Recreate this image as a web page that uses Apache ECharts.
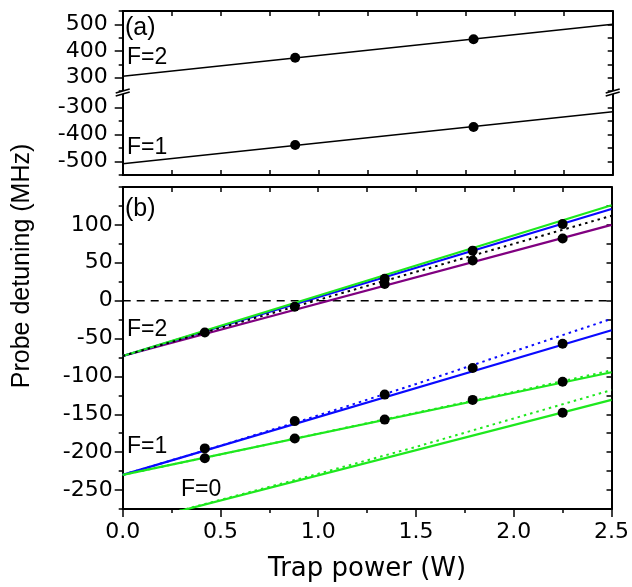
<!DOCTYPE html>
<html><head><meta charset="utf-8">
<script src="https://cdn.jsdelivr.net/npm/echarts@6/dist/echarts.min.js"></script>
<style>html,body{margin:0;padding:0;background:#fff}#c{width:632px;height:587px}</style>
</head><body><div id="c"></div>
<script>
// ---------- data ----------
const xTickLabels = [0, 0.5, 1.0, 1.5, 2.0, 2.5];
const yTicksAUpper = [300, 400, 500];
const yTicksALower = [-500, -400, -300];
const yTicksB = [-250, -200, -150, -100, -50, 0, 50, 100];

// panel (a) measured points
const ptXA = [0.88, 1.79];
const ptA_F2 = [375, 444];
const ptA_F1 = [-439, -372];
// panel (a) fits
const fitX = [0, 2.5];
const fitA_F2 = [305, 500];
const fitA_F1 = [-508, -316];

// panel (b) measured points
const ptXB = [0.42, 0.88, 1.34, 1.79, 2.25];
const ptB_F2_upper = [-42, -8, 29, 66, 101];
const ptXB_lower = [1.34, 1.79, 2.25];
const ptB_F2_lower = [22, 53, 82];
const ptB_F1_blue = [-195, -159, -124, -89, -57];
const ptB_F1_green = [-208, -182, -157, -131, -107];
const ptXB_F0 = [2.25];
const ptB_F0 = [-148];

// panel (b) fits (solid, straight)
const fitB_F2_green = [-73, 126];
const fitB_F2_blue = [-73, 121];
const fitB_F2_purple = [-73, 100];
const fitB_F2_dotted = [-73, 112];
const fitB_F1_blue = [-230, -39];
const fitB_F1_green = [-230, -94.5];
const fitB_F0_green = [-297, -131];
const zeroLine = [0, 0];

// panel (b) dotted theory curves
const theoryX = [0, 0.5, 1.0, 1.5, 2.0, 2.5];
const theoryB_F1_blue = [-230, -191.5, -151.5, -110, -67, -24];
const theoryB_F1_green = [-230, -203, -175.5, -148, -120.5, -92];
const theoryB_F0_green = [-297, -263, -228.5, -193, -155.5, -118];

// ---------- layout / style ----------
const FONT = 'Liberation Sans';
const TICKFONT = 'DejaVu Sans';
const L = 122.7, R = 19.3, W = 632;
const GREEN = '#1ee81e', BLUE = '#0a0aff', PURPLE = '#800080';
const axLine = {show: true, onZero: false, lineStyle: {color: '#000', width: 2}};
const tickStyle = {color: '#000', width: 1.5};
const lblStyle = {color: '#000', fontFamily: TICKFONT, fontSize: 22};

const pair = (xs, ys) => xs.map((x, i) => [x, ys[i]]);

function xAx(grid, pos, opts) {
  return Object.assign({
    gridIndex: grid, type: 'value', position: pos, min: 0, max: 2.5, interval: 0.25,
    axisLine: axLine, axisTick: {show: true, inside: true, length: 5, lineStyle: tickStyle},
    axisLabel: {show: false}, splitLine: {show: false}
  }, opts || {});
}
function yAx(grid, pos, min, max, interval, opts) {
  return Object.assign({
    gridIndex: grid, type: 'value', position: pos, min: min, max: max, interval: interval,
    axisLine: axLine, axisTick: {show: true, inside: true, length: 5, lineStyle: tickStyle},
    axisLabel: {show: false}, splitLine: {show: false}
  }, opts || {});
}

const xAxis = [
  xAx(0, 'top'),
  xAx(1, 'bottom'),
  xAx(2, 'bottom', {
    axisTick: {show: true, inside: false, length: 4, lineStyle: tickStyle},
    axisLabel: Object.assign({show: true, margin: 12,
      formatter: v => (Math.abs(v * 2 - Math.round(v * 2)) < 1e-6) ? v.toFixed(1) : ''}, lblStyle),
    name: 'Trap power (W)', nameLocation: 'middle', nameGap: 47,
    nameTextStyle: {color: '#000', fontFamily: TICKFONT, fontSize: 26}
  }),
  xAx(2, 'bottom', {
    axisLine: {show: false, onZero: false},
    axisTick: {show: true, inside: false, length: 8, customValues: xTickLabels, lineStyle: tickStyle}
  }),
  xAx(2, 'top')
];

const yAxis = [
  yAx(0, 'left', 250, 550, 50, {
    axisTick: {show: true, inside: false, length: 4, lineStyle: tickStyle},
    axisLabel: Object.assign({show: true, margin: 15, formatter: v => (v % 100 === 0 && v < 550) ? String(v) : ''}, lblStyle)
  }),
  yAx(0, 'left', 250, 550, 50, {axisLine: {show: false, onZero: false},
    axisTick: {show: true, inside: false, length: 8, customValues: yTicksAUpper, lineStyle: tickStyle}}),
  yAx(0, 'right', 250, 550, 50),
  yAx(1, 'left', -550, -250, 50, {
    axisTick: {show: true, inside: false, length: 4, lineStyle: tickStyle},
    axisLabel: Object.assign({show: true, margin: 15, formatter: v => (v % 100 === 0 && v > -550) ? String(v) : ''}, lblStyle)
  }),
  yAx(1, 'left', -550, -250, 50, {axisLine: {show: false, onZero: false},
    axisTick: {show: true, inside: false, length: 8, customValues: yTicksALower, lineStyle: tickStyle}}),
  yAx(1, 'right', -550, -250, 50),
  yAx(2, 'left', -275, 150, 25, {
    axisTick: {show: true, inside: false, length: 4, lineStyle: tickStyle},
    axisLabel: Object.assign({show: true, margin: 10,
      formatter: v => (v % 50 === 0 && v >= -250 && v <= 100) ? String(v) : ''}, lblStyle)
  }),
  yAx(2, 'left', -275, 150, 25, {axisLine: {show: false, onZero: false},
    axisTick: {show: true, inside: false, length: 8, customValues: yTicksB, lineStyle: tickStyle}}),
  yAx(2, 'right', -275, 150, 25)
];

function lineS(xi, yi, data, color, width, type, z) {
  return {type: 'line', xAxisIndex: xi, yAxisIndex: yi, data: data, showSymbol: false, symbol: 'none',
    clip: true, silent: true, z: z || 2, lineStyle: {color: color, width: width, type: type || 'solid'}};
}
function ptS(xi, yi, data) {
  return {type: 'scatter', xAxisIndex: xi, yAxisIndex: yi, data: data, symbol: 'circle', symbolSize: 10,
    itemStyle: {color: '#000', opacity: 1}, z: 10, silent: true};
}

const series = [
  // panel (a)
  lineS(0, 0, pair(fitX, fitA_F2), '#000', 1.5),
  ptS(0, 0, pair(ptXA, ptA_F2)),
  lineS(1, 3, pair(fitX, fitA_F1), '#000', 1.5),
  ptS(1, 3, pair(ptXA, ptA_F1)),
  // panel (b)
  lineS(2, 6, pair(fitX, zeroLine), '#000', 1.5, [8, 6], 1),
  lineS(2, 6, pair(fitX, fitB_F2_purple), PURPLE, 2.2, 'solid', 2),
  lineS(2, 6, pair(fitX, fitB_F2_blue), BLUE, 2.2, 'solid', 3),
  lineS(2, 6, pair(fitX, fitB_F2_green), GREEN, 2.2, 'solid', 4),
  lineS(2, 6, pair(fitX, fitB_F2_dotted), '#000', 2, [2.5, 4], 5),
  lineS(2, 6, pair(theoryX, theoryB_F1_blue), BLUE, 2, [2.5, 4], 2),
  lineS(2, 6, pair(fitX, fitB_F1_blue), BLUE, 2.2, 'solid', 3),
  lineS(2, 6, pair(theoryX, theoryB_F1_green), GREEN, 2, [2.5, 4], 2),
  lineS(2, 6, pair(fitX, fitB_F1_green), GREEN, 2.2, 'solid', 3),
  lineS(2, 6, pair(theoryX, theoryB_F0_green), GREEN, 2, [2.5, 4], 2),
  lineS(2, 6, pair(fitX, fitB_F0_green), GREEN, 2.2, 'solid', 3),
  ptS(2, 6, pair(ptXB, ptB_F2_upper)),
  ptS(2, 6, pair(ptXB_lower, ptB_F2_lower)),
  ptS(2, 6, pair(ptXB, ptB_F1_blue)),
  ptS(2, 6, pair(ptXB, ptB_F1_green)),
  ptS(2, 6, pair(ptXB_F0, ptB_F0))
];

function txt(t, x, y, size, extra) {
  return Object.assign({type: 'text', x: x, y: y, z: 100,
    style: {text: t, font: size + 'px "' + FONT + '"', fill: '#000', align: 'left', verticalAlign: 'middle'}}, extra || {});
}
function breakMark(x, y) {
  return [
    {type: 'polygon', z: 90, shape: {points: [[x - 7, y + 0.5], [x + 7, y - 3.5], [x + 7, y - 0.5], [x - 7, y + 3.5]]},
      style: {fill: '#fff', stroke: null}},
    {type: 'line', z: 91, shape: {x1: x - 7, y1: y + 0.5, x2: x + 7, y2: y - 3.5}, style: {stroke: '#000', lineWidth: 1.6}},
    {type: 'line', z: 91, shape: {x1: x - 7, y1: y + 3.5, x2: x + 7, y2: y - 0.5}, style: {stroke: '#000', lineWidth: 1.6}}
  ];
}

const graphic = [
  txt('(a)', 125, 28, 25),
  txt('F=2', 127, 58, 23),
  txt('F=1', 127, 148, 23),
  txt('(b)', 125, 209, 25),
  txt('F=2', 127, 330, 23),
  txt('F=1', 127, 447, 23),
  txt('F=0', 181, 490, 23),
  {type: 'text', x: 22, y: 266, rotation: Math.PI / 2, z: 100,
    style: {text: 'Probe detuning (MHz)', font: '25px "' + FONT + '"', fill: '#000', align: 'center', verticalAlign: 'middle'}}
].concat(breakMark(L, 92.5), breakMark(W - R, 92.5));

const chart = echarts.init(document.getElementById('c'), null, {renderer: 'canvas'});
chart.setOption({
  animation: false,
  backgroundColor: '#fff',
  grid: [
    {left: L, right: R, top: 11, height: 80},
    {left: L, right: R, top: 94, height: 81},
    {left: L, right: R, top: 187, height: 324}
  ],
  xAxis: xAxis,
  yAxis: yAxis,
  series: series,
  graphic: graphic
});
</script></body></html>
